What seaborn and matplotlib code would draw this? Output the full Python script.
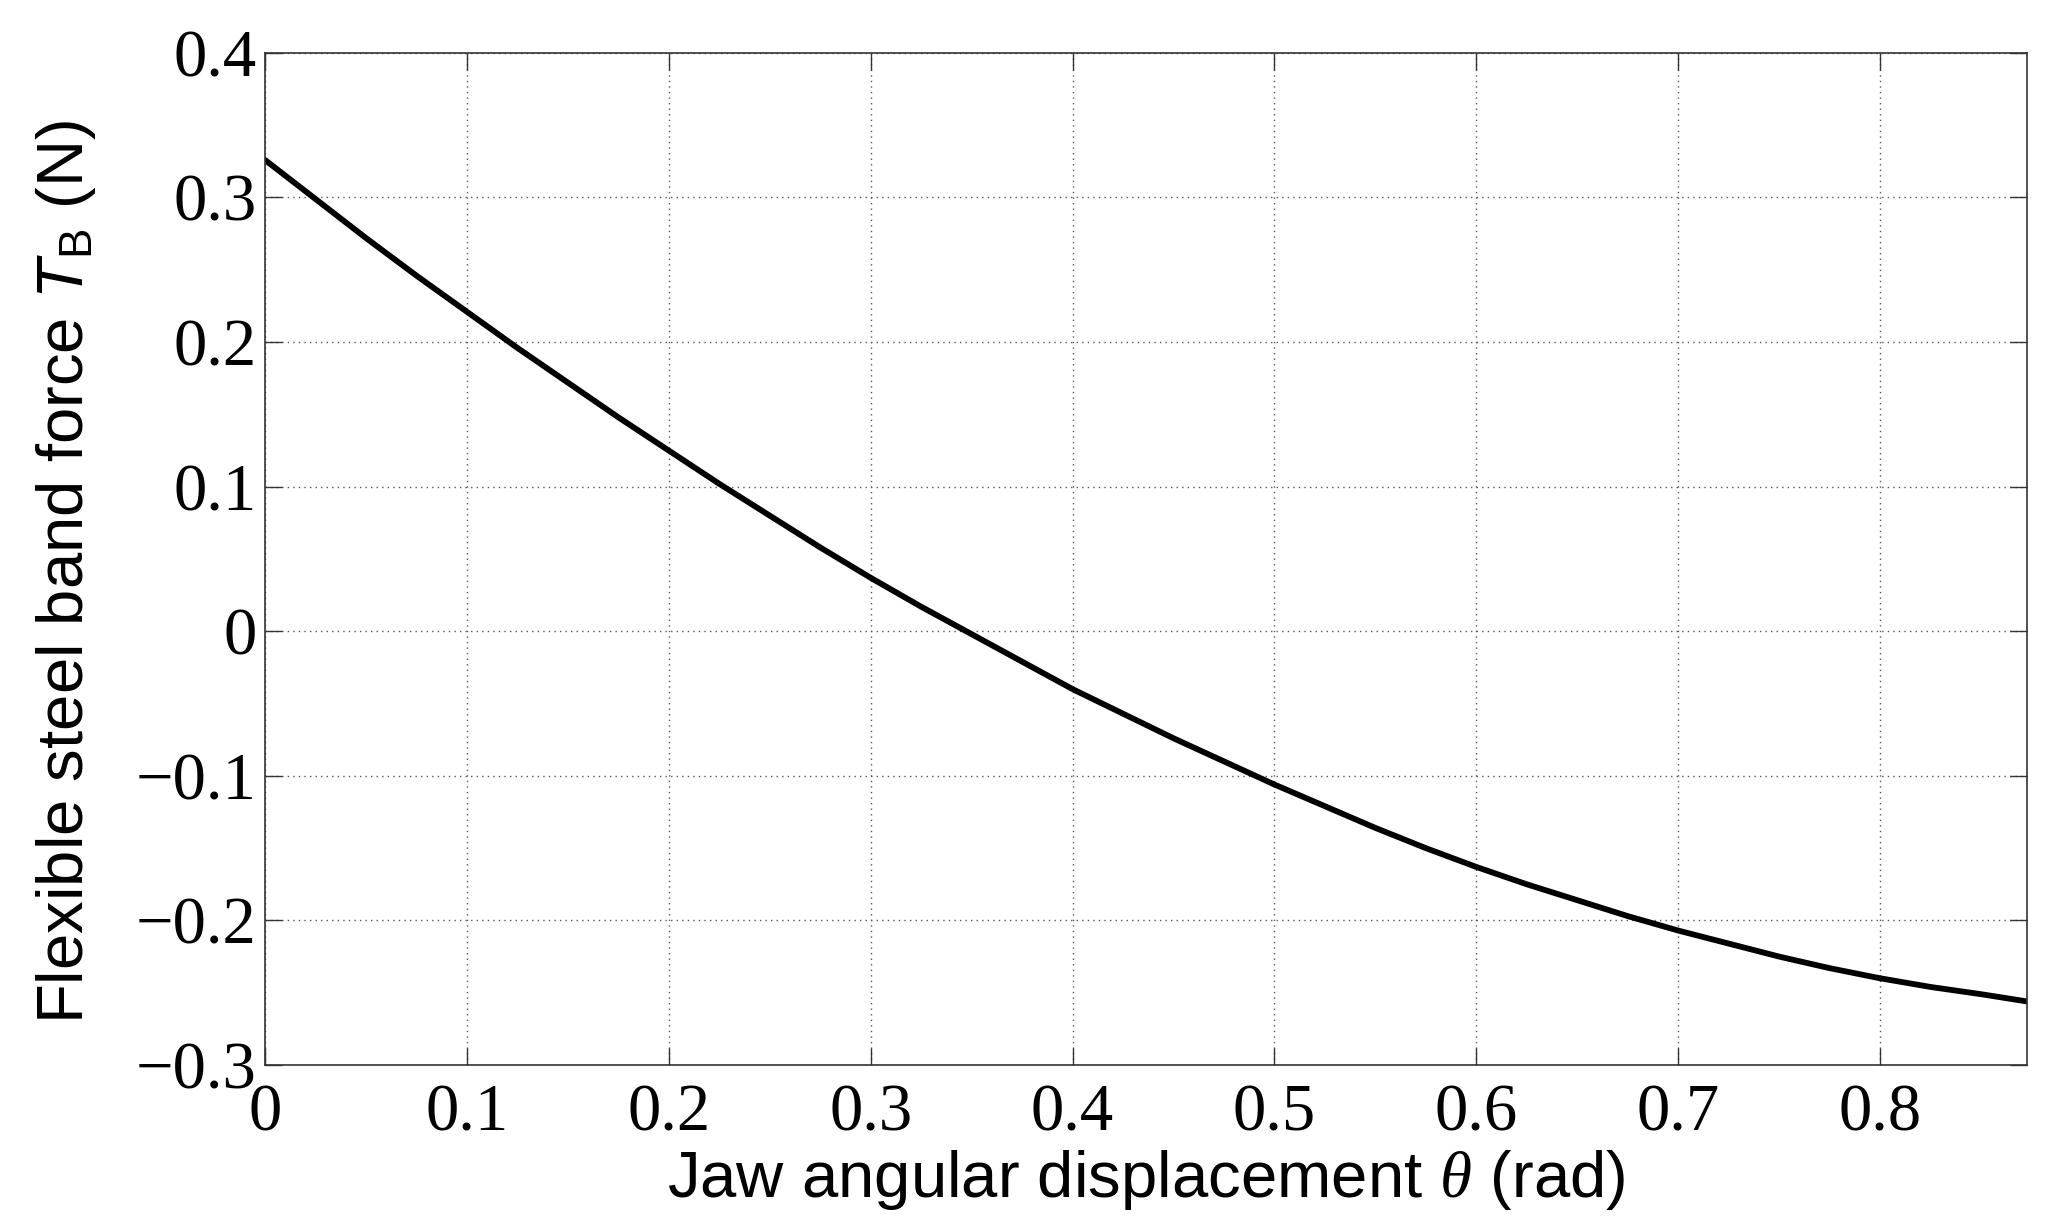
import numpy as np
import pandas as pd
import seaborn as sns
import matplotlib
matplotlib.use("Agg")
import matplotlib.pyplot as plt

# values
theta = [0.000, 0.025, 0.050, 0.075, 0.100, 0.125, 0.150, 0.175, 0.200,
         0.225, 0.250, 0.275, 0.300, 0.325, 0.350, 0.375, 0.400, 0.425,
         0.450, 0.475, 0.500, 0.525, 0.550, 0.575, 0.600, 0.625, 0.650,
         0.675, 0.700, 0.725, 0.750, 0.775, 0.800, 0.825, 0.850, 0.8727]
force = [0.326, 0.299, 0.272, 0.246, 0.221, 0.196, 0.172, 0.148, 0.125,
         0.102, 0.080, 0.058, 0.037, 0.017, -0.002, -0.021, -0.040, -0.057,
         -0.074, -0.090, -0.106, -0.121, -0.136, -0.150, -0.163, -0.175, -0.186,
         -0.197, -0.207, -0.216, -0.225, -0.233, -0.240, -0.246, -0.251, -0.256]

xticks = [0, 0.1, 0.2, 0.3, 0.4, 0.5, 0.6, 0.7, 0.8]
xtick_labels = ["0", "0.1", "0.2", "0.3", "0.4", "0.5", "0.6", "0.7", "0.8"]
yticks = [-0.3, -0.2, -0.1, 0, 0.1, 0.2, 0.3, 0.4]
ytick_labels = ["\u22120.3", "\u22120.2", "\u22120.1", "0", "0.1", "0.2", "0.3", "0.4"]

df = pd.DataFrame({"theta": theta, "force": force})

sns.set_style("ticks")
plt.rcParams["font.family"] = ["Liberation Serif", "DejaVu Serif"]
plt.rcParams["mathtext.fontset"] = "custom"
plt.rcParams["mathtext.rm"] = "Liberation Sans"
plt.rcParams["mathtext.sf"] = "Liberation Sans:italic"
plt.rcParams["mathtext.it"] = "Liberation Serif:italic"

fig, ax = plt.subplots(figsize=(20.57, 12.30), dpi=100)
fig.subplots_adjust(left=0.1288, right=0.9854, bottom=0.1341, top=0.957)

sns.lineplot(data=df, x="theta", y="force", color="black", linewidth=4.2,
             errorbar=None, ax=ax)

ax.set_xlim(0, 0.8727)
ax.set_ylim(-0.3, 0.4)
ax.set_xticks(xticks)
ax.set_xticklabels(xtick_labels)
ax.set_yticks(yticks)
ax.set_yticklabels(ytick_labels)

ax.grid(True, linestyle=(0, (1, 3)), color="0.35", linewidth=1.0)
for s in ax.spines.values():
    s.set_visible(True)
    s.set_linewidth(1.2)
    s.set_color("0.2")

ax.tick_params(direction="in", length=12, width=1, colors="0.2",
               top=True, right=True, labelsize=48, labelcolor="black")
ax.tick_params(axis="x", pad=13)
ax.tick_params(axis="y", pad=6)

ax.set_xlabel(r"Jaw angular displacement $\theta$ (rad)",
              fontfamily="Liberation Sans", fontsize=47, color="black")
ax.set_ylabel(r"Flexible steel band force $\mathsf{T}_{\mathrm{B}}$ (N)",
              fontfamily="Liberation Sans", fontsize=47, color="black")
ax.xaxis.label.set_va("baseline")
ax.xaxis.set_label_coords(0.5, -0.1304)
ax.yaxis.label.set_va("baseline")
ax.yaxis.set_label_coords(-0.103, 0.487)

fig.savefig("out.png", dpi=100)
